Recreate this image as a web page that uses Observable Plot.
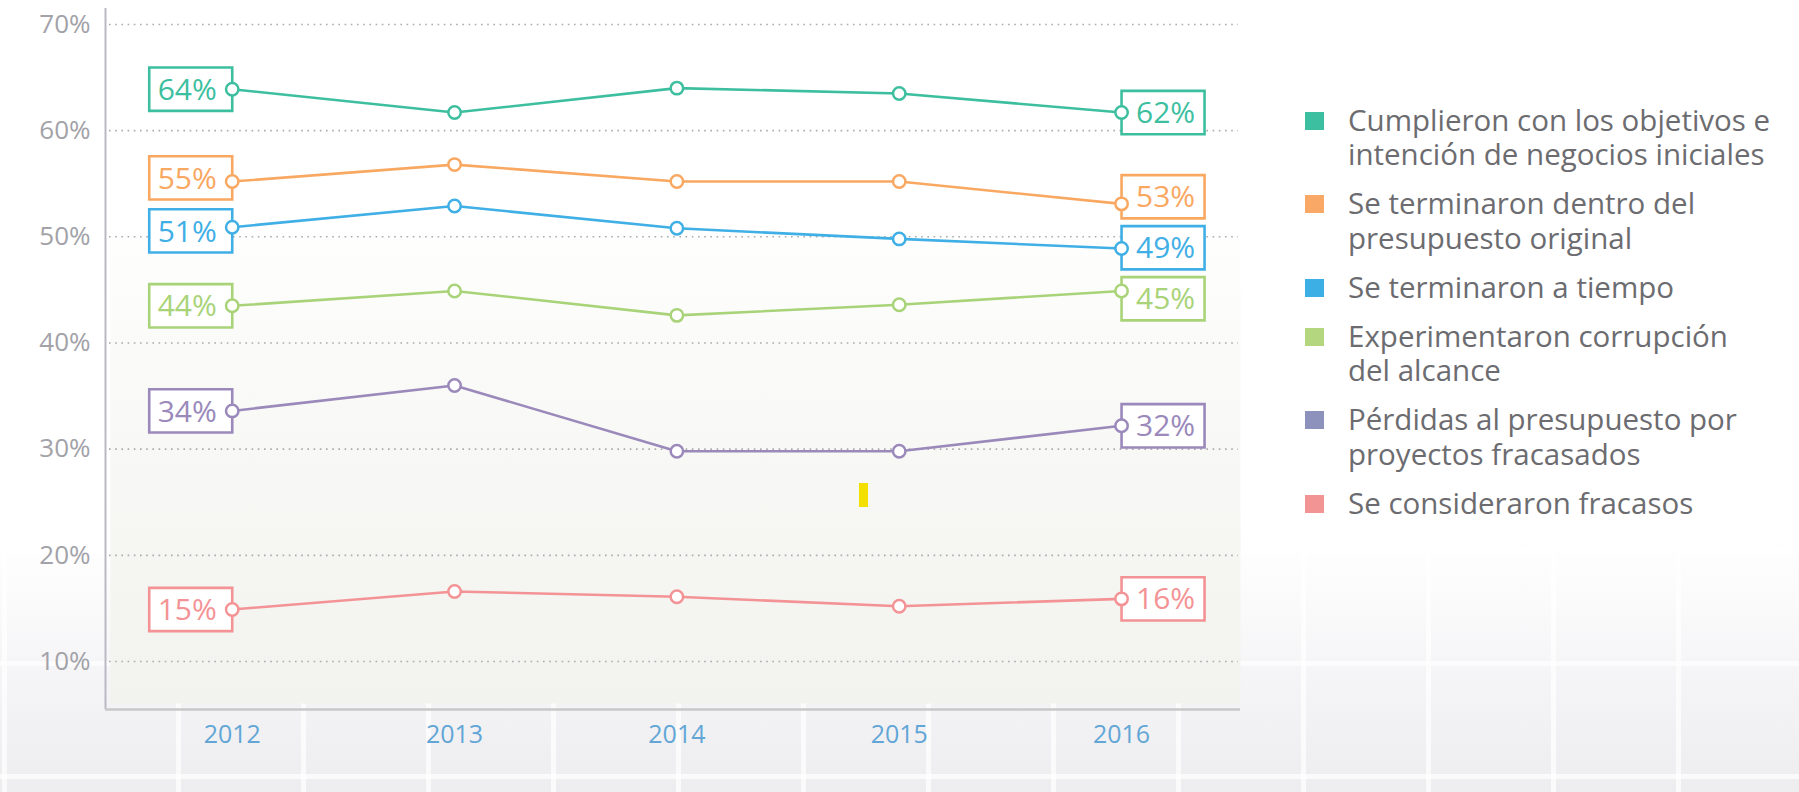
<!DOCTYPE html>
<html>
<head>
<meta charset="utf-8">
<script src="https://cdn.jsdelivr.net/npm/d3@7"></script>
<script src="https://cdn.jsdelivr.net/npm/@observablehq/plot@0.6"></script>
<style>
  html, body { margin: 0; padding: 0; }
  body {
    width: 1799px; height: 792px; overflow: hidden; position: relative;
    font-family: "Open Sans", sans-serif;
    background:
      repeating-linear-gradient(90deg, transparent 0 120px, rgba(255,255,255,0.7) 120px 125px),
      repeating-linear-gradient(180deg, transparent 0 108px, rgba(255,255,255,0.7) 108px 113px),
      linear-gradient(to bottom, #ffffff 0%, #ffffff 68%, #f5f5f7 85%, #ededf0 100%);
    background-position: 56px 0, 0 101px, 0 0;
  }
  #chart { position: absolute; left: 0; top: 0; }
  #legend { position: absolute; left: 1305px; top: 103px; }
  .item { display: flex; align-items: flex-start; margin-bottom: 15px; }
  .sw { width: 19px; height: 18px; margin-top: 9px; margin-right: 24px; flex: none; }
  .lbl { font-size: 29.5px; line-height: 34.2px; color: #6c6c70; white-space: pre-line; }
  #mark { position: absolute; left: 859px; top: 483px; width: 9px; height: 24px; background: #f4e000; }
</style>
</head>
<body>
<div id="chart"></div>
<div id="mark"></div>
<div id="legend"></div>
<script>
// ---- Data ----
const years = [2012, 2013, 2014, 2015, 2016];
const seriesKeys = [
  "Cumplieron con los objetivos e intención de negocios iniciales",
  "Se terminaron dentro del presupuesto original",
  "Se terminaron a tiempo",
  "Experimentaron corrupción del alcance",
  "Pérdidas al presupuesto por proyectos fracasados",
  "Se consideraron fracasos"
];
const legendLines = [
  "Cumplieron con los objetivos e\nintención de negocios iniciales",
  "Se terminaron dentro del\npresupuesto original",
  "Se terminaron a tiempo",
  "Experimentaron corrupción\ndel alcance",
  "Pérdidas al presupuesto por\nproyectos fracasados",
  "Se consideraron fracasos"
];
const cumplieron  = [63.9, 61.7, 64.0, 63.5, 61.7];
const presupuesto = [55.2, 56.8, 55.2, 55.2, 53.1];
const tiempo      = [50.9, 52.9, 50.8, 49.8, 48.9];
const corrupcion  = [43.5, 44.9, 42.6, 43.6, 44.9];
const perdidas    = [33.6, 36.0, 29.8, 29.8, 32.2];
const fracasos    = [14.9, 16.6, 16.1, 15.2, 15.9];
const yTicks = [10, 20, 30, 40, 50, 60, 70];

const lineColors   = ["#3dbf9f", "#f9a862", "#3fafe5", "#a9d378", "#9a89ba", "#f49395"];
const legendColors = ["#3bbfa0", "#f9a866", "#3cb0e4", "#b3d67e", "#8d92bd", "#f29394"];

// ---- Build table ----
const seriesValues = [cumplieron, presupuesto, tiempo, corrupcion, perdidas, fracasos];
const data = [];
seriesValues.forEach((vals, i) => vals.forEach((v, j) => data.push({serie: seriesKeys[i], year: years[j], value: v})));

const xDomain = [2011.43, 2016.535];
const yDomain = [5.48, 71.5];
const plotTop = 8, plotBottom = 709;
const pxPerUnit = (plotBottom - plotTop) / (yDomain[1] - yDomain[0]);

const boxW = 83, boxH = 43.3;
// separate end labels so boxes do not collide (minimum centre distance in px)
function placeLabels(rows, minSepPx) {
  const sep = minSepPx / pxPerUnit;
  const out = rows.map(d => ({...d, labelY: d.value})).sort((a, b) => b.labelY - a.labelY);
  for (let iter = 0; iter < 200; iter++) {
    let moved = false;
    for (let i = 0; i < out.length - 1; i++) {
      const gap = out[i].labelY - out[i + 1].labelY;
      if (gap < sep - 1e-6) {
        const push = (sep - gap) / 2;
        out[i].labelY += push;
        out[i + 1].labelY -= push;
        moved = true;
      }
    }
    if (!moved) break;
  }
  return out;
}
const firstYear = placeLabels(data.filter(d => d.year === years[0]), 53);
const lastYear = placeLabels(data.filter(d => d.year === years[years.length - 1]), 51);

const boxSymbol = {
  draw(ctx) {
    ctx.moveTo(-boxW / 2, -boxH / 2);
    ctx.lineTo(boxW / 2, -boxH / 2);
    ctx.lineTo(boxW / 2, boxH / 2);
    ctx.lineTo(-boxW / 2, boxH / 2);
    ctx.closePath();
  }
};
const fmt = d => Math.round(d.value) + "%";

const chart = Plot.plot({
  width: 1250,
  height: 792,
  marginLeft: 105,
  marginRight: 10,
  marginTop: plotTop,
  marginBottom: 792 - plotBottom,
  style: {background: "transparent", fontFamily: "Open Sans, sans-serif", overflow: "visible"},
  x: {domain: xDomain, label: null},
  y: {domain: yDomain, label: null},
  color: {domain: seriesKeys, range: lineColors},
  marks: [
    Plot.frame({fill: "url(#plotBg)", stroke: "none", insetLeft: 5, insetBottom: 6}),
    Plot.ruleY(yTicks, {y: d => d, stroke: "#ababab", strokeWidth: 1.6, strokeDasharray: "1.6,4.6", insetLeft: 4, insetRight: 2}),
    Plot.ruleX([xDomain[0]], {stroke: "#b9b9c4", strokeWidth: 2}),
    Plot.ruleY([yDomain[0]], {stroke: "#c8c8c8", strokeWidth: 2.5}),
    Plot.axisY({ticks: yTicks, tickFormat: d => d + "%", tickSize: 0, tickPadding: 15, fontSize: 26, fill: "#a2a2a8", label: null}),
    Plot.axisX({ticks: years, tickFormat: d => String(d), tickSize: 0, tickPadding: 16, fontSize: 25, fill: "#62a6d6", label: null}),
    Plot.line(data, {x: "year", y: "value", z: "serie", stroke: "serie", strokeWidth: 2.6}),
    Plot.dot(firstYear, {x: "year", y: "labelY", symbol: boxSymbol, r: 10, fill: "white", stroke: "serie", strokeWidth: 2.6, dx: -41.5}),
    Plot.dot(lastYear, {x: "year", y: "labelY", symbol: boxSymbol, r: 10, fill: "white", stroke: "serie", strokeWidth: 2.6, dx: 41.5}),
    Plot.dot(data, {x: "year", y: "value", r: 6.2, fill: "white", stroke: "serie", strokeWidth: 2.5}),
    Plot.text(firstYear, {x: "year", y: "labelY", text: fmt, fill: "serie", fontSize: 30, dx: -45, dy: 1}),
    Plot.text(lastYear, {x: "year", y: "labelY", text: fmt, fill: "serie", fontSize: 30, dx: 44, dy: 1})
  ]
});

// gradient for plot background
const svg = d3.select(chart);
const grad = svg.insert("defs", ":first-child").append("linearGradient")
  .attr("id", "plotBg").attr("x1", 0).attr("y1", 0).attr("x2", 0).attr("y2", 1);
grad.append("stop").attr("offset", "0").attr("stop-color", "#ffffff");
grad.append("stop").attr("offset", "0.3").attr("stop-color", "#ffffff");
grad.append("stop").attr("offset", "0.5").attr("stop-color", "#fafaf8");
grad.append("stop").attr("offset", "1").attr("stop-color", "#f2f2ee");

document.getElementById("chart").appendChild(chart);

// ---- Legend ----
const legend = d3.select("#legend");
seriesKeys.forEach((k, i) => {
  const it = legend.append("div").attr("class", "item");
  it.append("div").attr("class", "sw").style("background", legendColors[i]);
  it.append("div").attr("class", "lbl").text(legendLines[i]);
});
</script>
</body>
</html>
